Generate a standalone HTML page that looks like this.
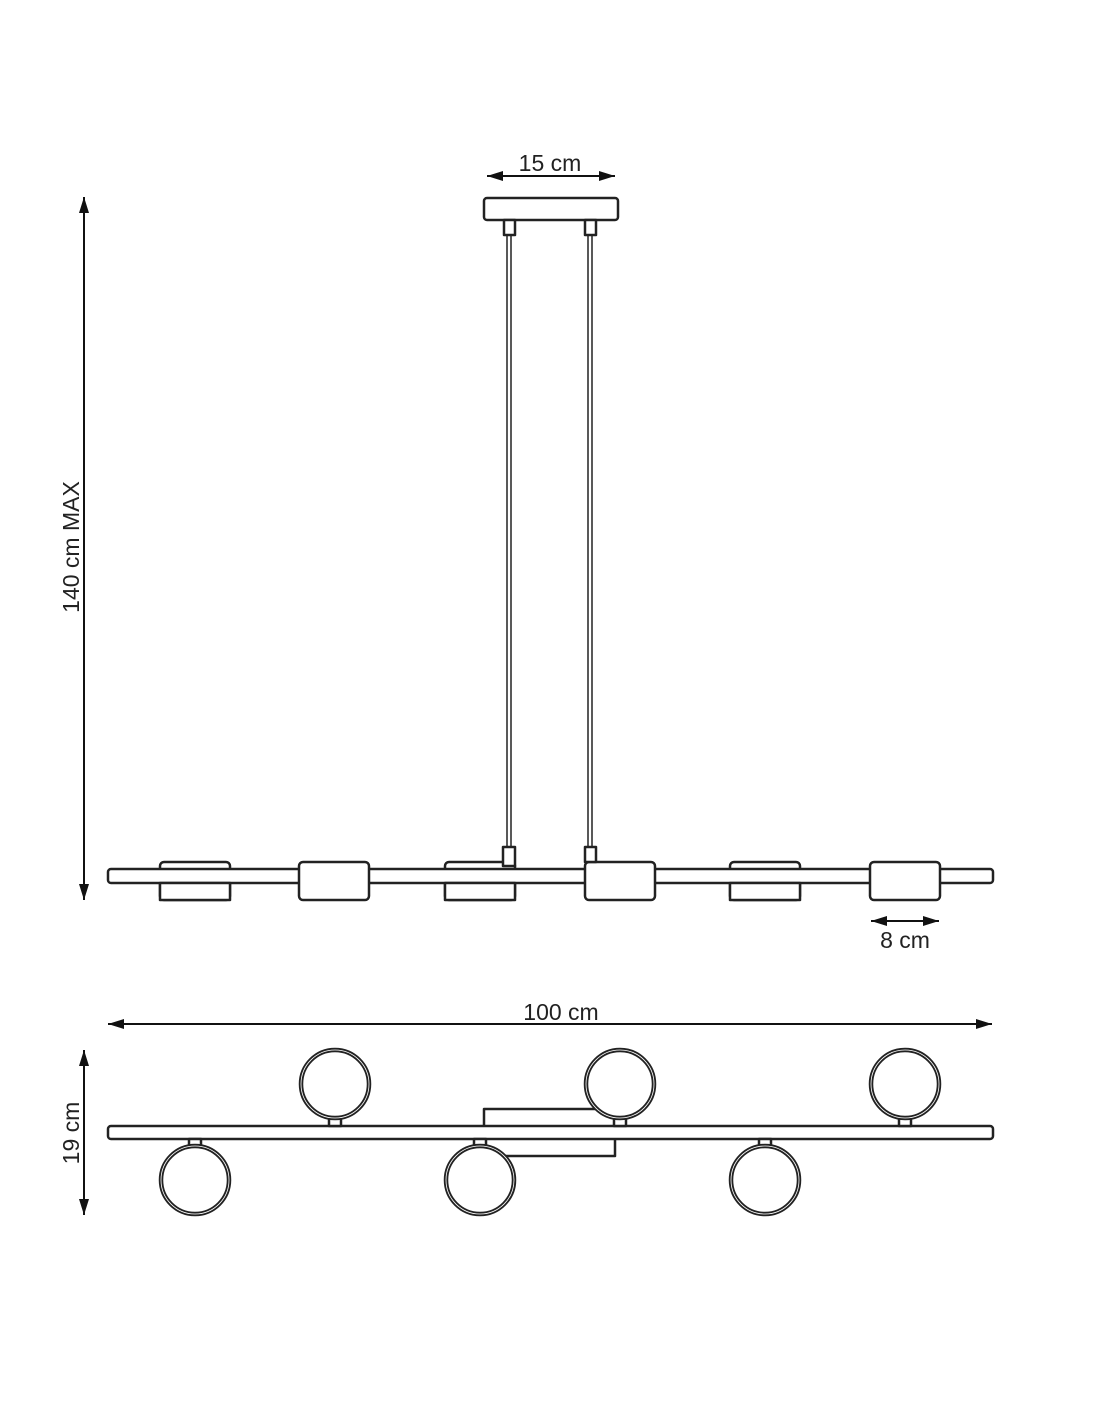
<!DOCTYPE html>
<html><head><meta charset="utf-8"><style>html,body{margin:0;padding:0;background:#fff}svg{display:block}</style></head>
<body>
<svg width="1100" height="1422" viewBox="0 0 1100 1422" xmlns="http://www.w3.org/2000/svg">
<defs>
<marker id="b" viewBox="0 0 16 10" refX="16" refY="5" markerWidth="16" markerHeight="10" orient="auto-start-reverse" markerUnits="userSpaceOnUse"><path d="M0,0 L16,5 L0,10 z" fill="#111"/></marker>
</defs>
<g font-family="Liberation Sans, sans-serif" font-size="23" fill="#222">
<text x="550" y="171" text-anchor="middle">15 cm</text>
<text x="905" y="948" text-anchor="middle">8 cm</text>
<text x="561" y="1020" text-anchor="middle">100 cm</text>
<text transform="translate(79,547) rotate(-90)" text-anchor="middle">140 cm MAX</text>
<text transform="translate(79,1133) rotate(-90)" text-anchor="middle">19 cm</text>
</g>
<g stroke="#111" stroke-width="2" fill="none">
<line x1="487" y1="176" x2="615" y2="176" marker-start="url(#b)" marker-end="url(#b)"/>
<line x1="84" y1="197" x2="84" y2="900" marker-start="url(#b)" marker-end="url(#b)"/>
<line x1="871" y1="921" x2="939" y2="921" marker-start="url(#b)" marker-end="url(#b)"/>
<line x1="108" y1="1024" x2="992" y2="1024" marker-start="url(#b)" marker-end="url(#b)"/>
<line x1="84" y1="1050" x2="84" y2="1215" marker-start="url(#b)" marker-end="url(#b)"/>
</g>
<g stroke="#222" stroke-width="2.5" fill="#fff" stroke-linejoin="round">
<rect x="484" y="198" width="134" height="22" rx="3"/>
<rect x="504" y="220" width="11" height="15"/>
<rect x="585" y="220" width="11" height="15"/>
<line x1="507" y1="235" x2="507" y2="847" stroke-width="1.5"/>
<line x1="511" y1="235" x2="511" y2="847" stroke-width="1.5"/>
<line x1="588" y1="235" x2="588" y2="847" stroke-width="1.5"/>
<line x1="592" y1="235" x2="592" y2="847" stroke-width="1.5"/>
<rect x="160" y="862" width="70" height="38" rx="4"/>
<rect x="445" y="862" width="70" height="38" rx="4"/>
<rect x="730" y="862" width="70" height="38" rx="4"/>
<rect x="108" y="869" width="885" height="14" rx="3"/>
<rect x="160" y="883" width="70" height="17"/>
<rect x="445" y="883" width="70" height="17"/>
<rect x="730" y="883" width="70" height="17"/>
<rect x="299" y="862" width="70" height="38" rx="4"/>
<rect x="585" y="862" width="70" height="38" rx="4"/>
<rect x="870" y="862" width="70" height="38" rx="4"/>
<rect x="503" y="847" width="12" height="19"/>
<rect x="585" y="847" width="11" height="15"/>
<polyline points="484,1126 484,1109 605,1109" fill="none"/>
<polyline points="615,1139 615,1156 505,1156" fill="none"/>
<rect x="108" y="1126" width="885" height="13" rx="3"/>
<rect x="329" y="1118" width="12" height="8"/>
<rect x="614" y="1118" width="12" height="8"/>
<rect x="899" y="1118" width="12" height="8"/>
<rect x="189" y="1139" width="12" height="8"/>
<rect x="474" y="1139" width="12" height="8"/>
<rect x="759" y="1139" width="12" height="8"/>
</g>
<g stroke="#222" stroke-width="4.5" fill="#fff">
<circle cx="335" cy="1084" r="34"/>
<circle cx="620" cy="1084" r="34"/>
<circle cx="905" cy="1084" r="34"/>
<circle cx="195" cy="1180" r="34"/>
<circle cx="480" cy="1180" r="34"/>
<circle cx="765" cy="1180" r="34"/>
</g>
<g stroke="#fff" stroke-width="0.8" fill="none">
<circle cx="335" cy="1084" r="34"/><circle cx="620" cy="1084" r="34"/><circle cx="905" cy="1084" r="34"/>
<circle cx="195" cy="1180" r="34"/><circle cx="480" cy="1180" r="34"/><circle cx="765" cy="1180" r="34"/>
</g>
</svg>
</body></html>
